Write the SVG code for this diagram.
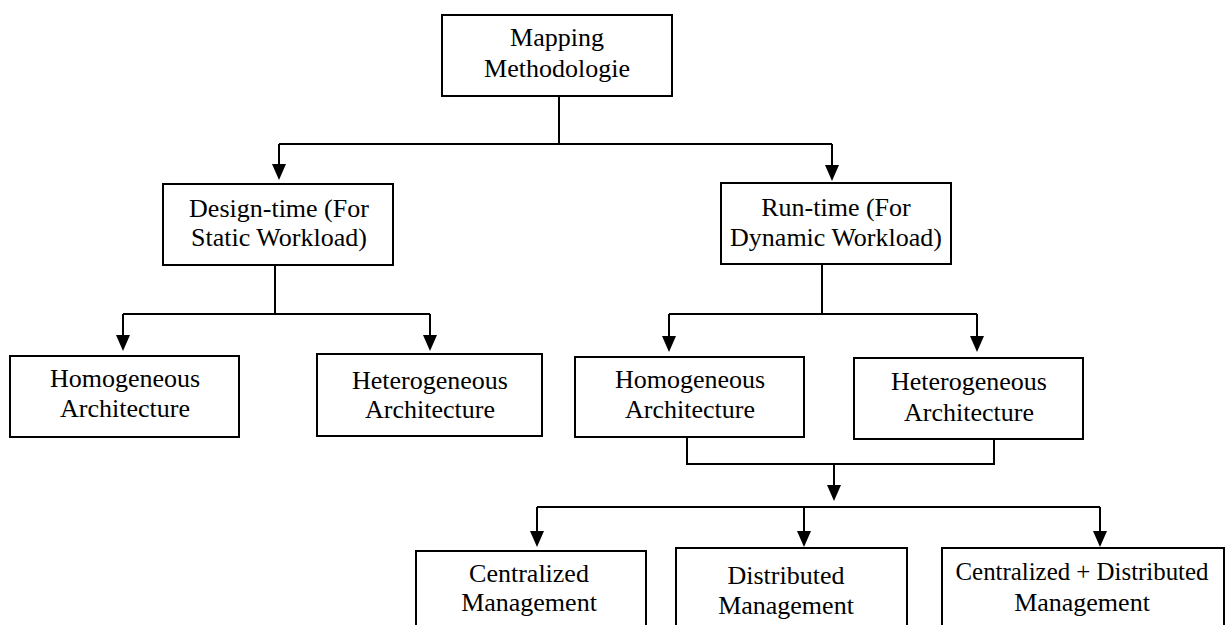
<svg xmlns="http://www.w3.org/2000/svg" width="1228" height="625" viewBox="0 0 1228 625">
<defs>
<style>
.box{fill:#fff;stroke:#000;stroke-width:2}
.t{font-family:"Liberation Serif","Times New Roman",serif;font-size:26px;fill:#000;text-anchor:middle}
.c{fill:none;stroke:#000;stroke-width:2}
.a{fill:none;stroke:#000;stroke-width:2;marker-end:url(#ah)}
</style>
<marker id="ah" markerUnits="userSpaceOnUse" markerWidth="16" markerHeight="14" refX="0" refY="7" orient="auto">
<path d="M0,0 L16,7 L0,14 Z" fill="#000"/>
</marker>
</defs>
<rect width="1228" height="625" fill="#fff"/>
<g id="connectors">
<path class="c" d="M559,96 V144 M279,144 H832"/>
<path class="a" d="M279,144 V164"/>
<path class="a" d="M832,144 V165"/>
<path class="c" d="M275,265 V314 M123,314 H430"/>
<path class="a" d="M123,314 V335"/>
<path class="a" d="M430,314 V335"/>
<path class="c" d="M822,264 V314 M669,314 H977"/>
<path class="a" d="M669,314 V336"/>
<path class="a" d="M977,314 V336"/>
<path class="c" d="M687,437 V464 H994 V439"/>
<path class="a" d="M834,464 V485"/>
<path class="c" d="M537,507 H1100"/>
<path class="a" d="M537,507 V531"/>
<path class="a" d="M804,507 V531"/>
<path class="a" d="M1100,507 V531"/>
</g>
<g id="mapping">
<rect class="box" x="442" y="15" width="230" height="81"/>
<text class="t" x="557" y="46">Mapping</text>
<text class="t" x="557" y="77">Methodologie</text>
</g>
<g id="design-time">
<rect class="box" x="163" y="184" width="230" height="81"/>
<text class="t" x="279" y="217">Design-time (For</text>
<text class="t" x="279" y="246">Static Workload)</text>
</g>
<g id="run-time">
<rect class="box" x="721" y="183" width="230" height="81"/>
<text class="t" x="836" y="216">Run-time (For</text>
<text class="t" x="836" y="246">Dynamic Workload)</text>
</g>
<g id="homo-left">
<rect class="box" x="10" y="356" width="229" height="81"/>
<text class="t" x="125" y="387">Homogeneous</text>
<text class="t" x="125" y="417">Architecture</text>
</g>
<g id="hetero-left">
<rect class="box" x="317" y="354" width="225" height="82"/>
<text class="t" x="430" y="389">Heterogeneous</text>
<text class="t" x="430" y="418">Architecture</text>
</g>
<g id="homo-right">
<rect class="box" x="575" y="357" width="229" height="80"/>
<text class="t" x="690" y="388">Homogeneous</text>
<text class="t" x="690" y="418">Architecture</text>
</g>
<g id="hetero-right">
<rect class="box" x="854" y="358" width="229" height="81"/>
<text class="t" x="969" y="390">Heterogeneous</text>
<text class="t" x="969" y="421">Architecture</text>
</g>
<g id="centralized">
<rect class="box" x="416" y="551" width="230" height="90"/>
<text class="t" x="529" y="582">Centralized</text>
<text class="t" x="529" y="611">Management</text>
</g>
<g id="distributed">
<rect class="box" x="676" y="548" width="231" height="93"/>
<text class="t" x="786" y="584">Distributed</text>
<text class="t" x="786" y="614">Management</text>
</g>
<g id="cent-dist">
<rect class="box" x="942" y="548" width="282" height="93"/>
<text class="t" x="1082" y="580" textLength="253" lengthAdjust="spacingAndGlyphs">Centralized + Distributed</text>
<text class="t" x="1082" y="611">Management</text>
</g>
</svg>
